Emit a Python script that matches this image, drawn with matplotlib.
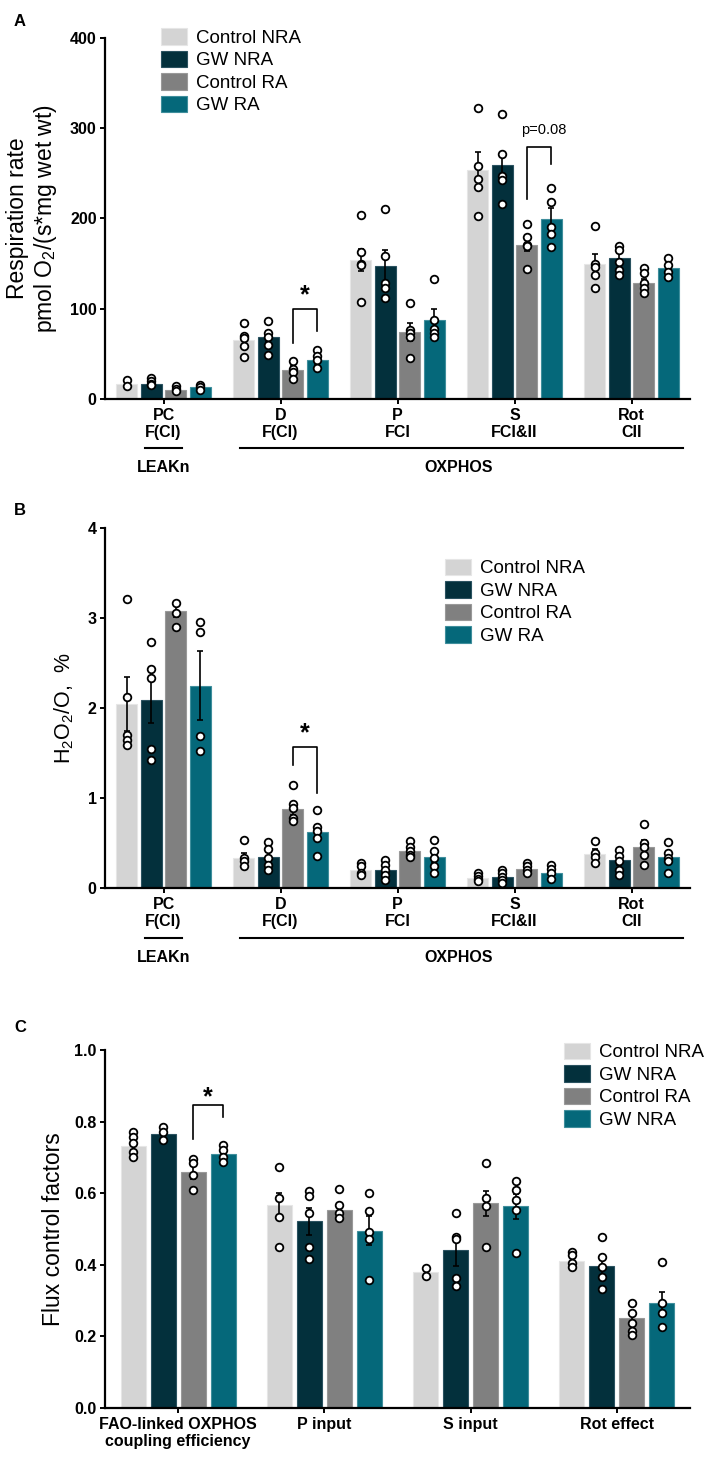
import numpy as np
import matplotlib.pyplot as plt
from matplotlib.patches import Patch
from matplotlib.transforms import blended_transform_factory

plt.rcParams['font.family'] = ['Liberation Sans', 'DejaVu Sans']
plt.rcParams['mathtext.fontset'] = 'custom'
plt.rcParams['mathtext.rm'] = 'Liberation Sans'
plt.rcParams['mathtext.it'] = 'Liberation Sans:italic'
plt.rcParams['mathtext.bf'] = 'Liberation Sans:bold'

# series
series = ["Control NRA", "GW NRA", "Control RA", "GW RA"]
series_c = ["Control NRA", "GW NRA", "Control RA", "GW NRA"]
colors = ["#d4d4d4", "#03303c", "#808080", "#05687a"]
edges = ["#e6e6e6", "#2a5260", "#999999", "#3f8e9c"]

# panel A: respiration rate
a_labels = ["PC\nF(CI)", "D\nF(CI)", "P\nFCI", "S\nFCI&II", "Rot\nCII"]
a_means = [[17, 17, 10.3, 12.9], [65, 69, 32, 43], [154, 147, 74, 88],
           [253, 259, 171, 199], [149, 156, 128, 145]]
a_sems = [[2, 2, 1, 1.5], [6, 6, 4, 4], [12, 18, 10, 12],
          [20, 13, 7, 13], [11, 6, 5, 4]]
a_points = [
    [[21, 14], [23, 19.5, 16.5, 15], [14, 11, 9], [15.5, 13, 10]],
    [[84, 70, 67, 59, 47], [86, 73, 69, 60, 48.5], [42, 33, 30, 22], [54, 48, 43, 34]],
    [[204, 163, 150, 148, 107], [210, 158.5, 128, 122.6, 111.5], [106, 76, 72.6, 69, 45],
     [133, 87, 78, 72.6, 69]],
    [[322, 258, 244, 235, 203], [316, 271.6, 247, 242, 215.7], [193.6, 179, 171, 169, 144],
     [234, 218.6, 190.7, 182.7, 168]],
    [[192, 150, 146, 137, 122.6], [169, 165, 152, 143, 137], [145, 139, 128, 122.6, 117],
     [156, 148.5, 141, 135.6]],
]

# panel B: H2O2/O
b_means = [[2.05, 2.09, 3.08, 2.25], [0.33, 0.35, 0.88, 0.62], [0.2, 0.2, 0.41, 0.34],
           [0.11, 0.12, 0.21, 0.17], [0.38, 0.31, 0.46, 0.35]]
b_sems = [[0.30, 0.26, 0.07, 0.38], [0.06, 0.05, 0.07, 0.08], [0.03, 0.04, 0.03, 0.06],
          [0.02, 0.02, 0.02, 0.03], [0.05, 0.05, 0.07, 0.05]]
b_points = [
    [[3.21, 2.12, 1.70, 1.65, 1.59], [2.73, 2.43, 2.33, 1.54, 1.42], [3.17, 3.06, 2.90],
     [2.96, 2.84, 1.69, 1.52]],
    [[0.53, 0.33, 0.30, 0.24], [0.51, 0.43, 0.33, 0.26, 0.20], [1.15, 0.93, 0.89, 0.78, 0.74],
     [0.87, 0.68, 0.63, 0.56, 0.36]],
    [[0.28, 0.24, 0.17, 0.14], [0.31, 0.26, 0.20, 0.15, 0.09], [0.52, 0.46, 0.41, 0.37, 0.35],
     [0.53, 0.41, 0.33, 0.24, 0.17]],
    [[0.17, 0.13, 0.10, 0.08], [0.20, 0.17, 0.12, 0.09, 0.06], [0.28, 0.24, 0.20, 0.17],
     [0.26, 0.21, 0.17, 0.10]],
    [[0.52, 0.39, 0.35, 0.28], [0.42, 0.36, 0.30, 0.20, 0.14], [0.71, 0.50, 0.46, 0.37, 0.26],
     [0.51, 0.39, 0.33, 0.30, 0.17]],
]

# panel C: flux control factors
c_labels = ["FAO-linked OXPHOS\ncoupling efficiency", "P input", "S input", "Rot effect"]
c_means = [[0.732, 0.765, 0.659, 0.709], [0.566, 0.521, 0.553, 0.495],
           [0.379, 0.44, 0.572, 0.563], [0.412, 0.397, 0.251, 0.293]]
c_sems = [[0.012, 0.01, 0.018, 0.01], [0.035, 0.038, 0.018, 0.04],
          [0.006, 0.042, 0.035, 0.035], [0.01, 0.025, 0.018, 0.03]]
c_points = [
    [[0.772, 0.756, 0.74, 0.716, 0.702], [0.784, 0.772, 0.749], [0.695, 0.684, 0.651, 0.609],
     [0.735, 0.721, 0.702, 0.688]],
    [[0.673, 0.586, 0.533, 0.451], [0.605, 0.593, 0.544, 0.451, 0.417], [0.611, 0.566, 0.544, 0.53],
     [0.60, 0.55, 0.493, 0.472, 0.358]],
    [[0.391, 0.37], [0.544, 0.479, 0.472, 0.363, 0.34], [0.684, 0.586, 0.563, 0.451],
     [0.634, 0.609, 0.581, 0.553, 0.433]],
    [[0.437, 0.428, 0.405, 0.393], [0.477, 0.421, 0.395, 0.367, 0.332], [0.293, 0.265, 0.237, 0.214, 0.205],
     [0.408, 0.293, 0.265, 0.226]],
]

W, H = 705, 1458
fig = plt.figure(figsize=(W / 100, H / 100), dpi=100)
TICK_FS = 11.5


def fx(x):
    return x / W


def fy(y):
    return 1 - y / H


def make_axes(top, bottom):
    ax = fig.add_axes([fx(105), fy(bottom), fx(690) - fx(105), (bottom - top) / H])
    for s in ["top", "right"]:
        ax.spines[s].set_visible(False)
    for s in ["left", "bottom"]:
        ax.spines[s].set_linewidth(1.6)
    ax.tick_params(direction="out", length=3.5, width=1.4, labelsize=TICK_FS, pad=2.5)
    ax.tick_params(axis="x", pad=3)
    return ax


def draw_bars(ax, means, sems, points, width, pitch):
    x = np.arange(len(means))
    for j in range(4):
        xs = x + (j - 1.5) * pitch
        vals = [m[j] for m in means]
        ax.bar(xs, vals, width, color=colors[j], edgecolor=edges[j], linewidth=0.8, zorder=2)
        ax.errorbar(xs, vals, yerr=[s[j] for s in sems], fmt="none", ecolor="black",
                    elinewidth=1.2, capsize=2.5, capthick=1.2, zorder=3)
        for i in range(len(means)):
            p = points[i][j]
            ax.plot([xs[i]] * len(p), p, "o", ms=5.5, mfc="white", mec="black", mew=1.3,
                    zorder=4, clip_on=False)


def bracket(ax, x1, x2, y1, ytop, y2):
    ax.plot([x1, x1, x2, x2], [y1, ytop, ytop, y2], color="black", lw=1.2, zorder=5)


def star(ax, x, y):
    ax.text(x, y, "*", ha="center", va="bottom", fontsize=18, fontweight="bold")


def add_legend(ax, labels, x, y):
    handles = [Patch(facecolor=c, edgecolor=e, linewidth=0.8) for c, e in zip(colors, edges)]
    ax.legend(handles, labels, loc="upper left", bbox_to_anchor=(fx(x), fy(y)),
              bbox_transform=fig.transFigure, frameon=False, fontsize=13.5,
              handlelength=1.39, handleheight=1.0, labelspacing=0.2, handletextpad=0.5,
              borderpad=0, borderaxespad=0)


def bold_ticks(ax):
    for t in ax.get_xticklabels() + ax.get_yticklabels():
        t.set_fontweight("bold")


def leak_oxphos(ax, y_line, y_text):
    tr = blended_transform_factory(ax.transData, fig.transFigure)
    ax.plot([-0.16, 0.16], [fy(y_line)] * 2, transform=tr, color="black", lw=1.5, clip_on=False)
    ax.plot([0.65, 4.44], [fy(y_line)] * 2, transform=tr, color="black", lw=1.5, clip_on=False)
    ax.text(0, fy(y_text), "LEAKn", transform=tr, ha="center", va="center",
            fontsize=TICK_FS, fontweight="bold")
    ax.text(2.52, fy(y_text), "OXPHOS", transform=tr, ha="center", va="center",
            fontsize=TICK_FS, fontweight="bold")


# ---- A
axA = make_axes(37.7, 399)
draw_bars(axA, a_means, a_sems, a_points, 0.18, 0.21)
axA.set_xlim(-0.5, 4.5)
axA.set_ylim(0, 400)
axA.set_yticks([0, 100, 200, 300, 400])
axA.set_xticks(range(5))
axA.set_xticklabels(a_labels, linespacing=1.15)
bold_ticks(axA)
axA.set_ylabel("Respiration rate\npmol O$_2$/(s*mg wet wt)", fontsize=16.5, linespacing=1.15)
axA.yaxis.set_label_coords(-0.079, 0.5)
bracket(axA, 1 + 0.5 * 0.21, 1 + 1.5 * 0.21, 61.5, 100, 75.5)
star(axA, 1 + 0.21, 101)
bracket(axA, 3 + 0.5 * 0.21, 3 + 1.5 * 0.21, 221, 279, 260)
axA.text(3.25, 297.7, "p=0.08", ha="center", va="center", fontsize=10.5)
add_legend(axA, series, 161, 28)
leak_oxphos(axA, 448, 468)

# ---- B
axB = make_axes(528, 888)
draw_bars(axB, b_means, b_sems, b_points, 0.18, 0.21)
axB.set_xlim(-0.5, 4.5)
axB.set_ylim(0, 4)
axB.set_yticks([0, 1, 2, 3, 4])
axB.set_xticks(range(5))
axB.set_xticklabels(a_labels, linespacing=1.15)
bold_ticks(axB)
axB.set_ylabel("H$_2$O$_2$/O,  %", fontsize=15.5)
axB.yaxis.set_label_coords(-0.05, 0.5)
bracket(axB, 1 + 0.5 * 0.21, 1 + 1.5 * 0.21, 1.37, 1.567, 1.056)
star(axB, 1 + 0.21, 1.58)
add_legend(axB, series, 445, 558.5)
leak_oxphos(axB, 938, 958)

# ---- C
axC = make_axes(1050, 1408)
draw_bars(axC, c_means, c_sems, c_points, 0.17, 0.205)
axC.set_xlim(-0.5, 3.5)
axC.set_ylim(0, 1.0)
axC.set_yticks([0, 0.2, 0.4, 0.6, 0.8, 1.0])
axC.set_yticklabels(["0.0", "0.2", "0.4", "0.6", "0.8", "1.0"])
axC.set_xticks(range(4))
axC.set_xticklabels(c_labels, linespacing=1.15)
bold_ticks(axC)
axC.set_ylabel("Flux control factors", fontsize=16.5)
axC.yaxis.set_label_coords(-0.068, 0.5)
bracket(axC, 0.5 * 0.205, 1.5 * 0.205, 0.751, 0.847, 0.814)
star(axC, 0.205, 0.834)
add_legend(axC, series_c, 564, 1042.5)

for letter, y in [("A", 22), ("B", 510), ("C", 1027)]:
    fig.text(fx(14), fy(y), letter, ha="left", va="center", fontsize=12, fontweight="bold")

fig.savefig("out.png", dpi=100)
